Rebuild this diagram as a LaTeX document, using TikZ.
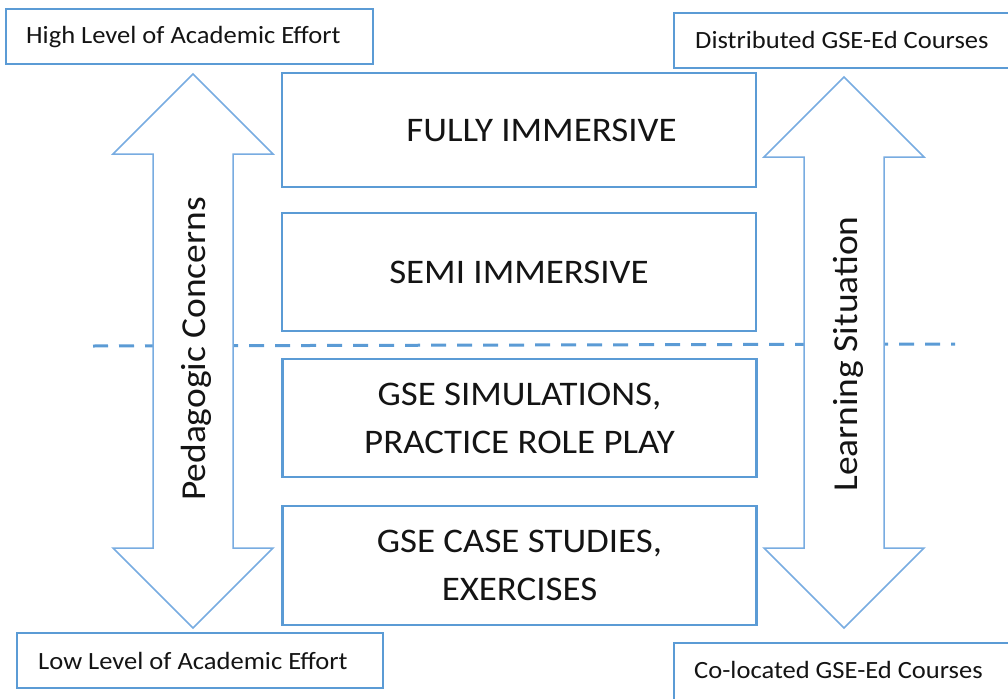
\documentclass[tikz,border=0pt]{standalone}
\usepackage{fontspec}
\setmainfont[FakeStretch=1.07]{Carlito}
\definecolor{boxblue}{RGB}{91,155,213}
\definecolor{arrblue}{RGB}{120,172,225}
\definecolor{txt}{RGB}{20,20,20}
\tikzset{
  labelbox/.style={draw=boxblue, line width=2.2pt, fill=white},
  labeltext/.style={anchor=west, font=\fontsize{24.8}{28}\selectfont, text=txt, inner sep=0pt},
  levelbox/.style={draw=boxblue, line width=2.4pt, minimum width=474pt, align=center,
                   font=\fontsize{34.5}{48}\selectfont, text=txt, inner sep=0pt},
  bigarrow/.style={draw=arrblue, line width=1.5pt, fill=white, line join=miter},
  arrowtext/.style={rotate=90, font=\fontsize{35}{40}\selectfont, text=txt, inner sep=0pt},
  divider/.style={draw=boxblue, line width=3pt, dash pattern=on 15pt off 11pt}
}
\begin{document}
\begin{tikzpicture}[x=1pt,y=-1pt]
\useasboundingbox (0,0) rectangle (1008,698);
% corner boxes
\draw[labelbox] (6,9) rectangle (373,64);
\node[labeltext] (high) at (26,37) {High Level of Academic Effort};
\draw[labelbox] (674,13) rectangle (1012,68);
\node[labeltext] (dist) at (695,40) {Distributed GSE-Ed Courses};
\draw[labelbox] (17,633) rectangle (383,688);
\node[labeltext] (low) at (38,661) {Low Level of Academic Effort};
\draw[labelbox] (674,643) rectangle (1012,702);
\node[labeltext] (coloc) at (694,670) {Co-located GSE-Ed Courses};
% dashed divider
\coordinate (dl) at (93,346);
\coordinate (dr) at (955,344);
\draw[divider] (dl) -- (dr);
% central level boxes
\node[levelbox, minimum height=114pt] (full) at (519,130) {\hspace*{45pt}FULLY IMMERSIVE};
\node[levelbox, minimum height=118pt] (semi) at (519,272) {SEMI IMMERSIVE};
\node[levelbox, minimum height=118pt] (sim) at (519.5,418) {GSE SIMULATIONS,\\PRACTICE ROLE PLAY};
\node[levelbox, minimum height=119pt] (case) at (519.5,565.5) {GSE CASE STUDIES,\\EXERCISES};
% left double arrow
\draw[bigarrow] (193,74) -- (273,154) -- (233,154) -- (233,548) -- (273,548) -- (193,628)
  -- (113,548) -- (153,548) -- (153,154) -- (113,154) -- cycle;
\node[arrowtext] (ped) at (196,349) {Pedagogic Concerns};
% right double arrow
\draw[bigarrow] (844,77) -- (924,157) -- (884,157) -- (884,548) -- (924,548) -- (844,628)
  -- (764,548) -- (804,548) -- (804,157) -- (764,157) -- cycle;
\node[arrowtext] (learn) at (848,354) {Learning Situation};
\end{tikzpicture}
\end{document}
